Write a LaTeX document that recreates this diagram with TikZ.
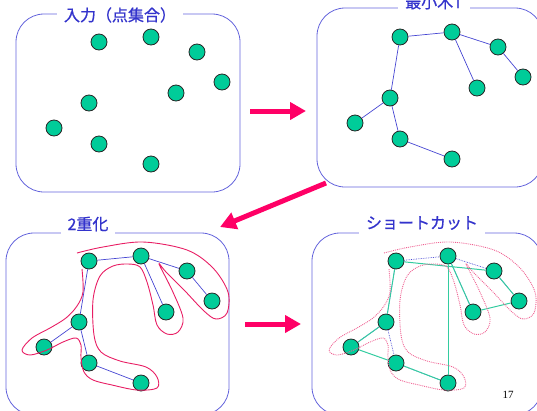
\documentclass[tikz,border=0pt]{standalone}
\usepackage{fontspec}
\usepackage{xcolor}
\usetikzlibrary{arrows.meta,positioning}
\setmainfont{Liberation Serif}
\newfontfamily\jpfont[FakeBold=0.8]{Noto Sans CJK JP}
\definecolor{boxblue}{RGB}{100,100,220}
\definecolor{titleblue}{RGB}{51,51,204}
\definecolor{edgeblue}{RGB}{70,70,210}
\definecolor{ptgreen}{RGB}{0,204,153}
\definecolor{arrowred}{RGB}{255,0,102}
\definecolor{tourred}{RGB}{232,30,100}
\definecolor{tourteal}{RGB}{51,204,160}

\begin{document}
\begin{tikzpicture}[x=1pt,y=-1pt]
  \tikzstyle{panel} = [rectangle, draw=boxblue, line width=0.8pt, rounded corners=28pt]
  \tikzstyle{title} = [fill=white, text=titleblue, font=\jpfont\fontsize{16}{18}\selectfont, inner xsep=7pt, inner ysep=4pt]
  \tikzstyle{pt} = [circle, draw=black!85, line width=0.8pt, fill=ptgreen, inner sep=0pt, minimum size=16pt]
  \tikzstyle{tree} = [draw=edgeblue, line width=0.7pt]
  \tikzstyle{treedot} = [draw=edgeblue, line width=0.7pt, densely dotted]
  \tikzstyle{short} = [draw=tourteal, line width=1pt]
  \tikzstyle{twice} = [draw=tourred, line width=0.9pt]
  \tikzstyle{twicedot} = [draw=tourred!70, line width=0.9pt, densely dotted]
  \tikzstyle{bigarrow} = [draw=arrowred, line width=5pt, -{Triangle[length=16pt,width=17pt]}]
\useasboundingbox (0,0) rectangle (537,410);
% panels
\node [panel, minimum width=224pt, minimum height=178pt] (box1) at (128,103) {};
\node [panel, minimum width=226pt, minimum height=179pt] (box2) at (430,97.5) {};
\node [panel, minimum width=223pt, minimum height=182pt] (box3) at (117.5,324) {};
\node [panel, minimum width=230pt, minimum height=182pt] (box4) at (427,324) {};
% points, same set in every panel
\foreach \pre/\dx/\dy in {A/0/0, B/301/-5, C/-10/219, D/297/219} {
  \begin{scope}[shift={(\dx,\dy)}]
  \node [pt] (\pre a) at (99,42) {};
  \node [pt] (\pre b) at (151,37) {};
  \node [pt] (\pre c) at (197,52) {};
  \node [pt] (\pre d) at (222,82) {};
  \node [pt] (\pre e) at (176,93) {};
  \node [pt] (\pre f) at (89,103) {};
  \node [pt] (\pre g) at (54,128) {};
  \node [pt] (\pre h) at (99,144) {};
  \node [pt] (\pre i) at (151,164) {};
  \end{scope}
}
% minimum spanning tree
\path [tree] (Ba) -- (Bb) -- (Bc) -- (Bd);
\path [tree] (Bb) -- (Be);
\path [tree] (Ba) -- (Bf) -- (Bg);
\path [tree] (Bf) -- (Bh) -- (Bi);
\path [tree] (Ca) -- (Cb) -- (Cc) -- (Cd);
\path [tree] (Cb) -- (Ce);
\path [tree] (Ca) -- (Cf) -- (Cg);
\path [tree] (Cf) -- (Ch) -- (Ci);
\path [treedot] (Da) -- (Db) -- (Dc) -- (Dd);
\path [treedot] (Db) -- (De);
\path [treedot] (Da) -- (Df) -- (Dg);
\path [treedot] (Df) -- (Dh) -- (Di);
% shortcut tour
\path [short] (Da) -- (Dc);
\path [short] (Dc) -- (Dd);
\path [short] (Dd) -- (De);
\path [short] (De) -- (Db);
\path [short] (Db) -- (Di);
\path [short] (Di) -- (Dh);
\path [short] (Dh) -- (Dg);
\path [short] (Dg) -- (Df);
\path [short] (Df) -- (Da);
% doubled tree walk
\foreach \dx/\sty in {0/twice, 307/twicedot}
  \path [\sty, shift={(\dx,0)}] plot [smooth, tension=0.55] coordinates {
    (77,253) (103,247) (143,242) (187,250) (213,268) (228,292) (227,313)
    (216,319) (204,311) (185,291) (166,272) (159,264) (172,290) (183,318)
    (178,332) (167,334) (157,325) (153,305) (147,282) (140,267) (128,264)
    (113,266) (100,276) (93,300) (94,335) (101,352) (120,361) (146,367)
    (157,377) (157,388) (137,390) (112,385) (93,380) (84,372) (81,358)
    (81,345) (76,338) (63,342) (47,350) (30,355) (22,350) (32,338)
    (50,328) (66,318) (77,306) (83,292) (82,269)};
% titles
\node [title] (t1) at (120,15) {入力（点集合）};
\node [title] (t2) at (434,2) {最小木T};
\node [title] (t3) at (88,224) {2重化};
\node [title] (t4) at (422,223) {ショートカット};
\node (pnum) at (508,395) {\fontsize{11}{13}\selectfont 17};
% arrows
\coordinate (r1s) at (250,111);
\coordinate (r1e) at (306,111);
\coordinate (r2s) at (326,183);
\coordinate (r2e) at (220,227);
\coordinate (r3s) at (245,324);
\coordinate (r3e) at (301,324);
\path [bigarrow] (r1s) -- (r1e);
\path [bigarrow] (r2s) -- (r2e);
\path [bigarrow] (r3s) -- (r3e);
\end{tikzpicture}
\end{document}
